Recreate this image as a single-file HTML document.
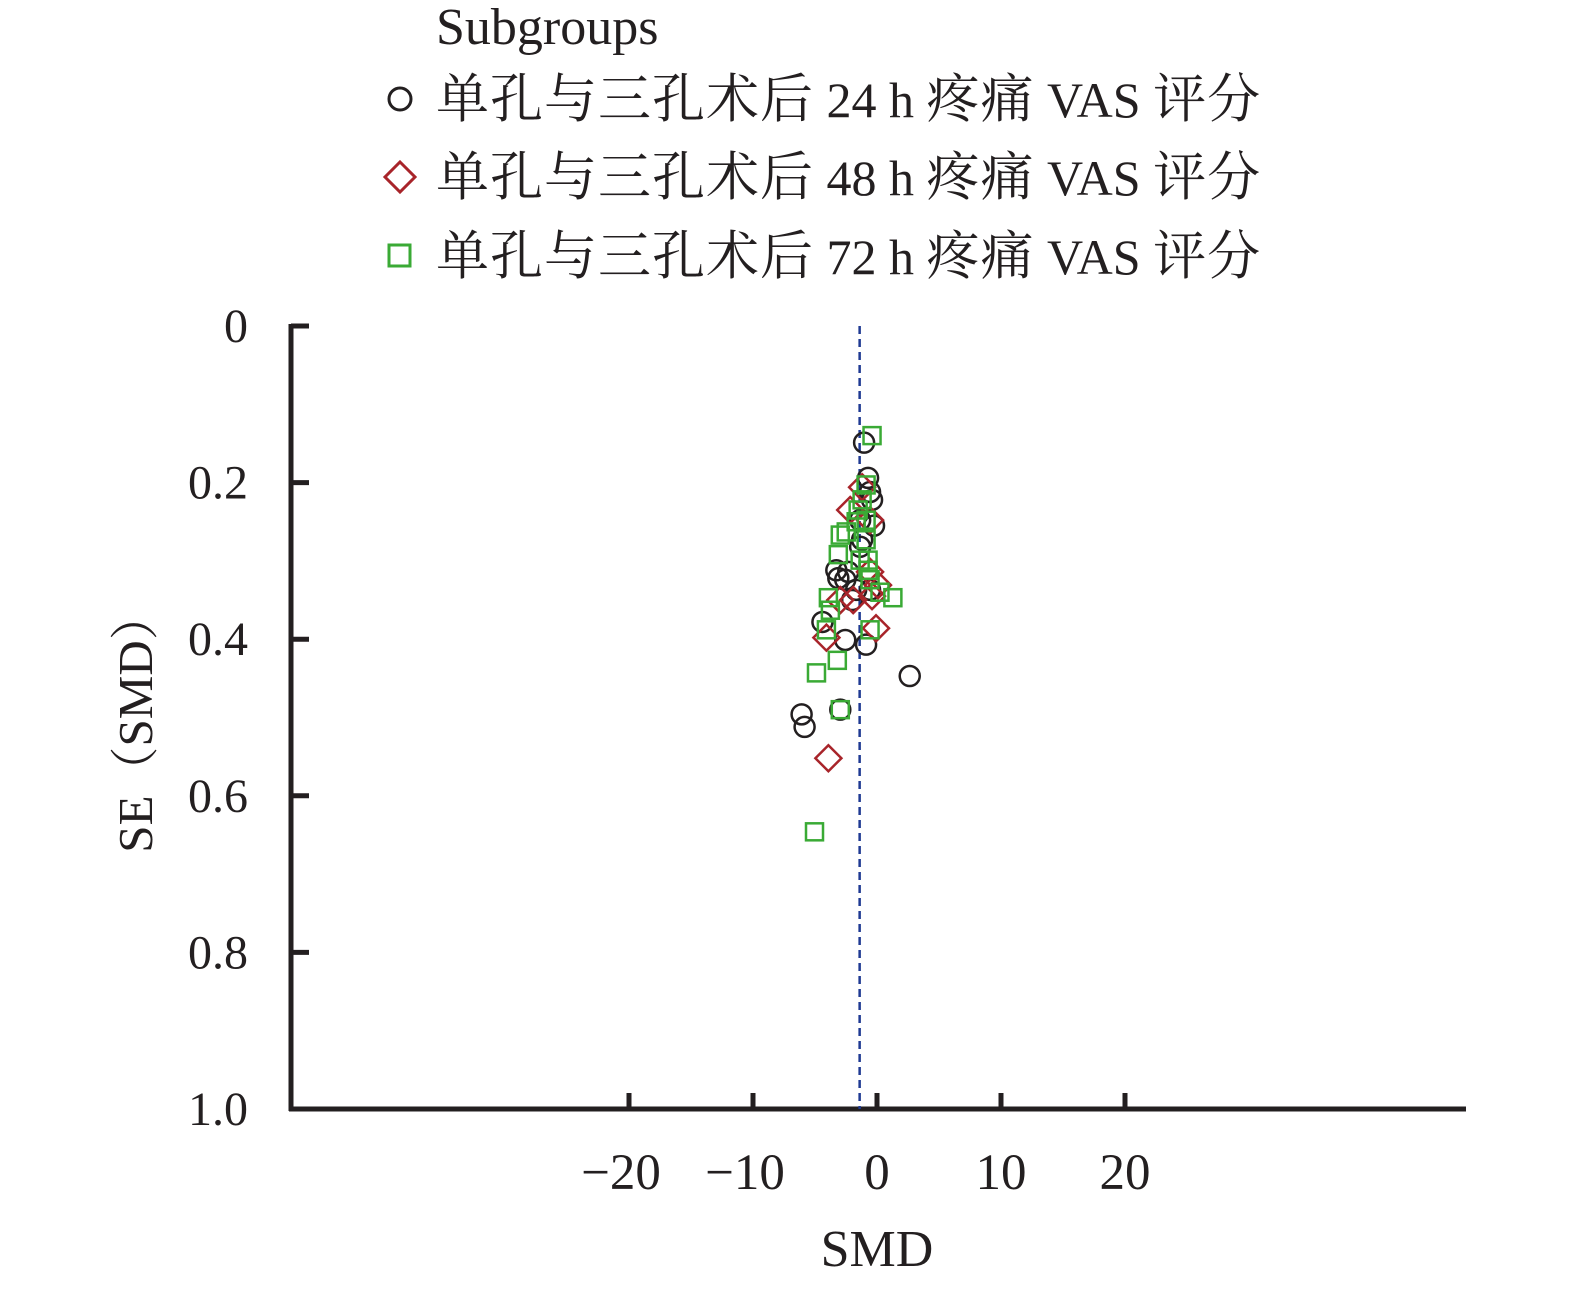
<!DOCTYPE html>
<html><head><meta charset="utf-8"><style>
html,body{margin:0;padding:0;background:#fff}
svg{display:block}
text{font-family:"Liberation Serif","Noto Serif CJK SC",serif;fill:#231f20}
.cj{font-size:53px;letter-spacing:1px}
.la{font-size:50px}
</style></head><body>
<svg id="chart" width="1575" height="1291" viewBox="0 0 1575 1291">
<g>
<text x="436" y="44" font-size="52">Subgroups</text>
<circle cx="400" cy="99" r="11" fill="none" stroke="#231f20" stroke-width="3"/>
<text x="436" y="117"><tspan class="cj">单孔与三孔术后</tspan><tspan class="la"> 24 h </tspan><tspan class="cj">疼痛</tspan><tspan class="la"> VAS </tspan><tspan class="cj">评分</tspan></text>
<path d="M400 162 L415 177 L400 192 L385 177 Z" fill="none" stroke="#a8242a" stroke-width="3"/>
<text x="436" y="195"><tspan class="cj">单孔与三孔术后</tspan><tspan class="la"> 48 h </tspan><tspan class="cj">疼痛</tspan><tspan class="la"> VAS </tspan><tspan class="cj">评分</tspan></text>
<rect x="389" y="245" width="21" height="21" fill="none" stroke="#3aaa35" stroke-width="3"/>
<text x="436" y="274"><tspan class="cj">单孔与三孔术后</tspan><tspan class="la"> 72 h </tspan><tspan class="cj">疼痛</tspan><tspan class="la"> VAS </tspan><tspan class="cj">评分</tspan></text>
</g>
<g id="axes"></g>
<g id="marks"></g>
</svg>
<script>
const xTicks=[-20,-10,0,10,20];
const yTicks=[0,0.2,0.4,0.6,0.8,1.0];
const yTickLabels=["0","0.2","0.4","0.6","0.8","1.0"];
const pooledSMD=-1.4;
const g24x=[-1.04,-0.72,-0.56,-0.24,-1.36,-3.28,-3.12,-2.56,-2.32,-2.0,-1.68,-0.56,-4.4,-2.56,-0.88,2.64,-6.08,-5.84,-2.96,-1.2,-0.4,-1.36];
const g24se=[0.149,0.194,0.212,0.255,0.282,0.312,0.322,0.324,0.314,0.350,0.337,0.337,0.378,0.401,0.407,0.447,0.496,0.512,0.490,0.273,0.222,0.248];
const g48x=[-1.2,-2.16,-0.56,-0.56,0.08,-1.92,-0.08,-4.08,-3.92,-2.96,-0.4];
const g48se=[0.206,0.235,0.248,0.314,0.331,0.350,0.386,0.398,0.552,0.350,0.345];
const g72x=[-0.4,-0.88,-1.2,-1.52,-1.68,-2.48,-0.88,-2.96,-0.88,-0.72,-3.12,-0.72,-0.56,0.24,1.28,-3.92,-3.76,-4.08,-0.56,-3.2,-4.88,-2.96,-5.04,-1.36];
const g72se=[0.140,0.203,0.222,0.235,0.25,0.263,0.248,0.267,0.273,0.299,0.292,0.312,0.324,0.34,0.347,0.347,0.363,0.388,0.388,0.427,0.443,0.490,0.646,0.299];

const NS="http://www.w3.org/2000/svg";
const X0=877,XS=12.4,Y0=326,YS=783,AX=291,AR=1466,AB=1109;
const sx=v=>X0+v*XS, sy=v=>Y0+v*YS;
function mk(tag,attrs,parent,txt){const e=document.createElementNS(NS,tag);for(const k in attrs)e.setAttribute(k,attrs[k]);if(txt!==undefined)e.textContent=txt;parent.appendChild(e);return e;}
const axes=document.getElementById('axes'), marks=document.getElementById('marks');
let e;
e=mk('line',{x1:AX,y1:Y0-2,x2:AX,y2:AB+2,stroke:'#231f20','stroke-width':5},axes);


e=mk('line',{x1:AX-2,y1:AB,x2:AR,y2:AB,stroke:'#231f20','stroke-width':5},axes);


yTicks.forEach((t,i)=>{
 e=mk('line',{x1:AX,y1:sy(t),x2:AX+18,y2:sy(t),stroke:'#231f20','stroke-width':5},axes);
 
 
 e=mk('text',{x:248,y:sy(t)+16,'font-size':48,'text-anchor':'end'},axes,yTickLabels[i]);
 
 
});
xTicks.forEach(t=>{
 e=mk('line',{x1:sx(t),y1:AB,x2:sx(t),y2:AB-16,stroke:'#231f20','stroke-width':5},axes);
 
 
 e=mk('text',{x:sx(t)-(t<0?8:0),y:1189,'font-size':51,'text-anchor':'middle'},axes,t<0?'\u2212'+(-t):String(t));
 
 
});
e=mk('text',{x:877,y:1266,'font-size':52,'text-anchor':'middle'},axes,'SMD');


e=mk('text',{x:0,y:0,'font-size':49,'text-anchor':'middle',transform:'translate(152,722) rotate(-90)'},axes,'SE（SMD）');


e=mk('line',{x1:sx(pooledSMD),y1:Y0,x2:sx(pooledSMD),y2:AB,stroke:'#1f3a93','stroke-width':2.5,'stroke-dasharray':'8,5'},axes);


g24x.forEach((v,i)=>{
 e=mk('circle',{cx:sx(v),cy:sy(g24se[i]),r:10,fill:'none',stroke:'#231f20','stroke-width':2.5},marks);
 
 
});
g48x.forEach((v,i)=>{
 const cx=sx(v),cy=sy(g48se[i]);
 e=mk('path',{d:`M${cx} ${cy-13}L${cx+13} ${cy}L${cx} ${cy+13}L${cx-13} ${cy}Z`,fill:'none',stroke:'#a8242a','stroke-width':2.5},marks);
 
 
});
g72x.forEach((v,i)=>{
 e=mk('rect',{x:sx(v)-8.5,y:sy(g72se[i])-8.5,width:17,height:17,fill:'none',stroke:'#3aaa35','stroke-width':2.5},marks);
 
 
});
</script>
</body></html>
